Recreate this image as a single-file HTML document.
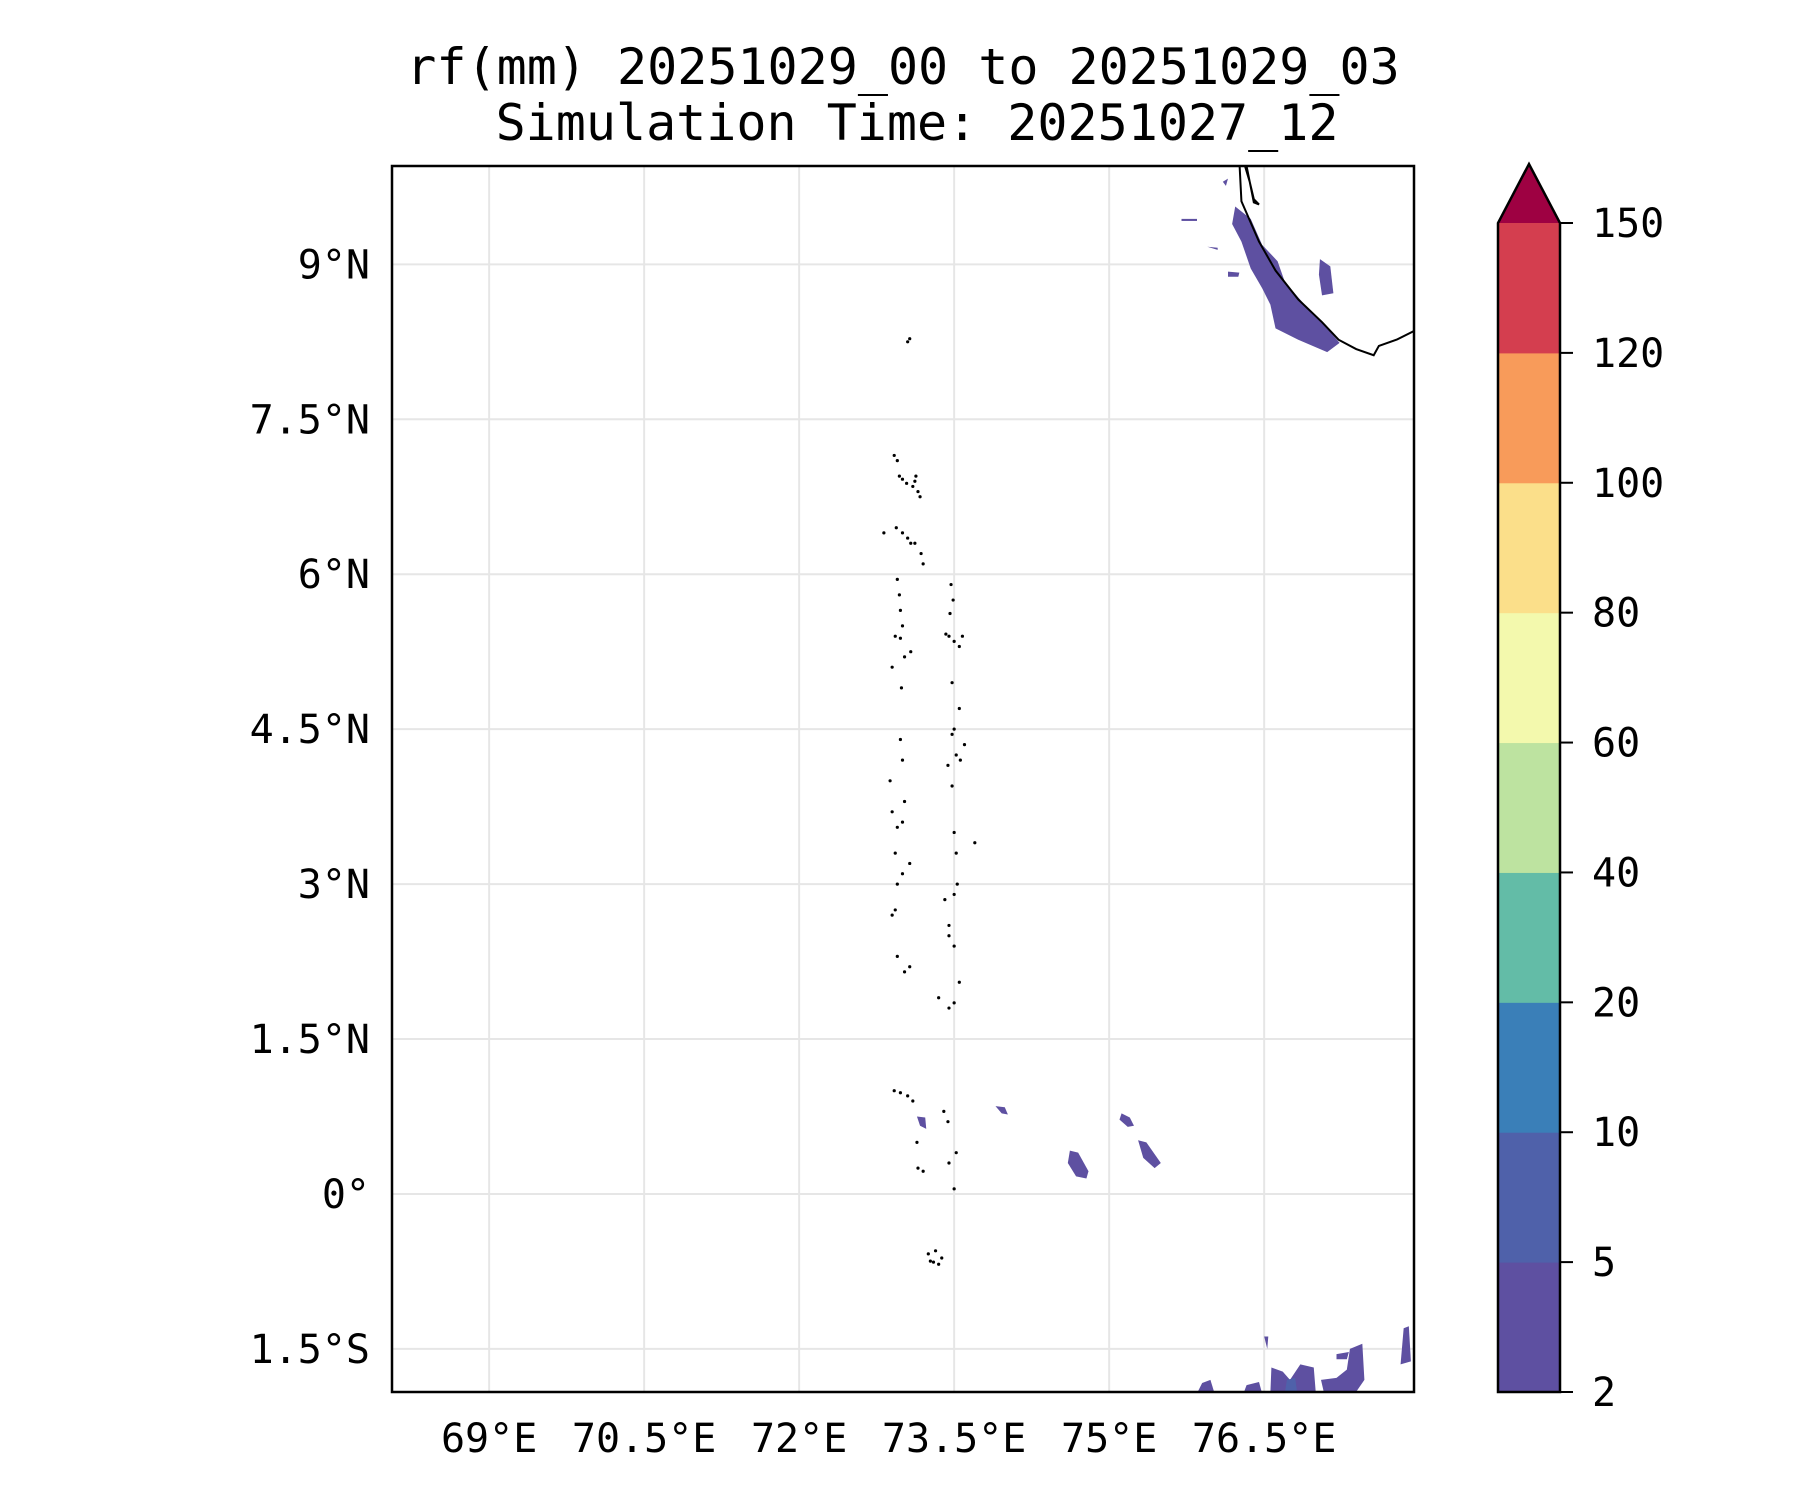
<!DOCTYPE html>
<html><head><meta charset="utf-8">
<style>
body{margin:0;background:#fff;}
svg{display:block;font-family:"DejaVu Sans Mono","Liberation Mono",monospace;}
</style></head>
<body>
<svg id="chart" width="1800" height="1500" viewBox="0 0 1800 1500">
<text x="903" y="84" font-size="50" text-anchor="middle">rf(mm) 20251029_00 to 20251029_03</text>
<text x="917" y="140" font-size="50" text-anchor="middle">Simulation Time: 20251027_12</text>
<g id="map"></g>
<g id="cbar"></g>
</svg>
<script>
const lonTicks=[69,70.5,72,73.5,75,76.5];
const lonLabels=["69°E","70.5°E","72°E","73.5°E","75°E","76.5°E"];
const latTicks=[-1.5,0,1.5,3,4.5,6,7.5,9];
const latLabels=["1.5°S","0°","1.5°N","3°N","4.5°N","6°N","7.5°N","9°N"];
const levels=[2,5,10,20,40,60,80,100,120,150];
const levelColors=["#5e50a1","#4f61aa","#3a7fb8","#63bca7","#bde3a0","#f3f9ad","#fbdf8a","#f89b5a","#d43e4f"];
const overColor="#9e0142";
const rainKerala=[[76.22,9.56],[76.37,9.44],[76.48,9.19],[76.63,9.03],[76.70,8.83],[76.89,8.61],[77.11,8.38],[77.23,8.24],[77.11,8.15],[76.83,8.27],[76.61,8.38],[76.56,8.61],[76.48,8.77],[76.37,8.96],[76.28,9.22],[76.19,9.39]];
const rainKeralaE=[[77.04,9.05],[77.14,8.98],[77.17,8.72],[77.06,8.70],[77.03,8.90]];
const rainEq1=[[74.62,0.42],[74.70,0.40],[74.80,0.22],[74.78,0.15],[74.68,0.17],[74.60,0.30]];
const rainEq2=[[75.28,0.52],[75.36,0.50],[75.50,0.30],[75.44,0.25],[75.33,0.35]];
const rainEq3=[[75.12,0.78],[75.20,0.74],[75.24,0.66],[75.18,0.65],[75.10,0.72]];
const rainEq4=[[73.90,0.85],[73.99,0.84],[74.02,0.77],[73.96,0.78]];
const rainEq5=[[73.14,0.75],[73.22,0.74],[73.23,0.63],[73.17,0.66]];
const rainS1=[[75.85,-1.93],[75.90,-1.83],[75.98,-1.80],[76.02,-1.93]];
const rainS2=[[76.30,-1.93],[76.33,-1.85],[76.45,-1.82],[76.48,-1.93]];
const rainS3=[[76.56,-1.93],[76.57,-1.68],[76.68,-1.72],[76.75,-1.80],[76.85,-1.65],[76.98,-1.68],[77.00,-1.93]];
const rainS4=[[77.08,-1.93],[77.05,-1.80],[77.20,-1.78],[77.30,-1.70],[77.33,-1.50],[77.45,-1.45],[77.47,-1.80],[77.38,-1.93]];
const rainS5=[[77.82,-1.65],[77.85,-1.30],[77.90,-1.28],[77.92,-1.62]];
const rainS6=[[76.50,-1.38],[76.54,-1.38],[76.53,-1.50]];
const rainS7=[[77.20,-1.55],[77.32,-1.53],[77.30,-1.60],[77.20,-1.60]];
const rainSmall=[[[75.70,9.44],[75.85,9.44],[75.85,9.42],[75.70,9.42]],[[75.95,9.17],[76.05,9.16],[76.05,9.14]],[[76.15,8.93],[76.26,8.92],[76.25,8.88],[76.15,8.88]],[[76.10,9.80],[76.15,9.83],[76.13,9.76]]];
const coastKerala=[[76.26,10.0],[76.28,9.61],[76.45,9.22],[76.61,8.94],[76.83,8.66],[77.06,8.44],[77.22,8.27],[77.39,8.18],[77.56,8.12],[77.61,8.21],[77.78,8.27],[77.96,8.36]];
const coastLagoon=[[76.32,10.0],[76.37,9.75],[76.40,9.60],[76.45,9.58],[76.40,9.63],[76.36,9.80],[76.30,10.0]];
const islandLons=[73.05,73.07,72.92,72.95,72.97,73.00,73.04,73.10,73.12,73.13,73.15,73.17,72.82,72.94,73.00,73.05,73.08,73.12,73.18,73.20,72.95,72.97,72.98,73.00,73.47,73.49,73.46,72.93,72.98,73.02,73.08,73.42,73.45,73.50,73.55,73.58,72.90,72.99,73.48,73.55,73.50,73.48,73.52,73.56,73.60,73.44,73.48,72.98,73.00,72.88,72.90,72.95,73.00,73.02,73.50,73.52,73.70,72.93,72.95,73.00,73.07,72.90,72.93,73.41,73.45,73.50,73.53,72.95,73.02,73.07,73.35,73.45,73.50,73.55,73.45,73.50,72.92,72.98,73.05,73.10,73.40,73.44,73.52,73.15,73.20,73.14,73.50,73.45];
const islandLats=[8.25,8.28,7.15,7.10,6.95,6.92,6.88,6.85,6.90,6.95,6.80,6.75,6.40,6.45,6.40,6.35,6.30,6.30,6.20,6.10,5.95,5.80,5.65,5.50,5.90,5.75,5.62,5.40,5.38,5.20,5.25,5.42,5.40,5.35,5.30,5.40,5.10,4.90,4.95,4.70,4.50,4.45,4.25,4.20,4.35,4.15,3.95,4.40,4.20,4.00,3.70,3.55,3.60,3.80,3.50,3.30,3.40,3.30,3.00,3.10,3.20,2.70,2.75,2.85,2.60,2.90,3.00,2.30,2.15,2.20,1.90,1.80,1.85,2.05,2.50,2.40,1.00,0.98,0.95,0.90,0.80,0.70,0.40,0.25,0.22,0.50,0.05,0.30];
const atollSouthLons=[73.25,73.30,73.35,73.38,73.32,73.27];
const atollSouthLats=[-0.58,-0.66,-0.68,-0.62,-0.55,-0.65];

const L=392,R=1414,T=166,B=1392;
const lon0=68.06,lon1=77.95,lat0=-1.917,lat1=9.952;
const X=lon=>L+(lon-lon0)/(lon1-lon0)*(R-L);
const Y=lat=>B-(lat-lat0)/(lat1-lat0)*(B-T);
const NS="http://www.w3.org/2000/svg";
function mk(tag,attrs,parent){const e=document.createElementNS(NS,tag);for(const k in attrs)e.setAttribute(k,attrs[k]);parent.appendChild(e);return e;}
const map=document.getElementById('map');
const cp=mk('clipPath',{id:'clip'},map);
mk('rect',{x:L,y:T,width:R-L,height:B-T},cp);
const inner=mk('g',{'clip-path':'url(#clip)'},map);
lonTicks.forEach((v,i)=>{
  const g=mk('line',{x1:X(v),x2:X(v),y1:T,y2:B,stroke:'#e6e6e6','stroke-width':2},inner);
  
  
  const t=mk('text',{x:X(v),y:B+60,'font-size':40,'text-anchor':'middle'},map);
  t.textContent=lonLabels[i];
  
  
});
latTicks.forEach((v,i)=>{
  const g=mk('line',{x1:L,x2:R,y1:Y(v),y2:Y(v),stroke:'#e6e6e6','stroke-width':2},inner);
  
  
  const t=mk('text',{x:L-22,y:Y(v)+14,'font-size':40,'text-anchor':'end'},map);
  t.textContent=latLabels[i];
  
  
});
function poly(pts,fill,name){
  const p=mk('polygon',{points:pts.map(p=>X(p[0])+','+Y(p[1])).join(' '),fill:fill},inner);
  
  
}
const c0=levelColors[0];
[rainKerala,rainKeralaE,rainEq1,rainEq2,rainEq3,rainEq4,rainEq5,rainS1,rainS2,rainS3,rainS4,rainS5,rainS6,rainS7].forEach(p=>poly(p,c0,'rain-contour'));
rainSmall.forEach(p=>poly(p,c0,'rain-contour-small'));
poly([[76.70,-1.93],[76.72,-1.80],[76.80,-1.78],[76.82,-1.93]],levelColors[1],'rain-contour-5-10');
function line(pts,name){
  const p=mk('polyline',{points:pts.map(p=>X(p[0])+','+Y(p[1])).join(' '),fill:'none',stroke:'#000','stroke-width':2},inner);
  
  
}
line(coastKerala,'coastline');
line(coastLagoon,'coastline-lagoon');
islandLons.forEach((lon,i)=>{
  const c=mk('circle',{cx:X(lon),cy:Y(islandLats[i]),r:1.6,fill:'#000'},inner);
  
  
});
atollSouthLons.forEach((lon,i)=>{
  const c=mk('circle',{cx:X(lon),cy:Y(atollSouthLats[i]),r:1.6,fill:'#000'},inner);
  
  
});
const fr=mk('rect',{x:L,y:T,width:R-L,height:B-T,fill:'none',stroke:'#000','stroke-width':2.5},map);


const cb=document.getElementById('cbar');
const CL=1498,CR=1560,CT=223,CB=1392,apex=164;
const n=levels.length-1;const h=(CB-CT)/n;
for(let i=0;i<n;i++){
  const r=mk('rect',{x:CL,y:CB-(i+1)*h,width:CR-CL,height:h+0.5,fill:levelColors[i]},cb);
  
  
}
const tri=mk('polygon',{points:`${CL},${CT} ${CR},${CT} ${(CL+CR)/2},${apex}`,fill:overColor},cb);


mk('polygon',{points:`${CL},${CB} ${CL},${CT} ${(CL+CR)/2},${apex} ${CR},${CT} ${CR},${CB}`,fill:'none',stroke:'#000','stroke-width':2.5},cb);
levels.forEach((v,i)=>{
  const y=CB-i*h;
  mk('line',{x1:CR,x2:CR+13,y1:y,y2:y,stroke:'#000','stroke-width':2},cb);
  const t=mk('text',{x:CR+32,y:y+14,'font-size':40},cb);
  t.textContent=v;
  
  
});
</script>
</body></html>
